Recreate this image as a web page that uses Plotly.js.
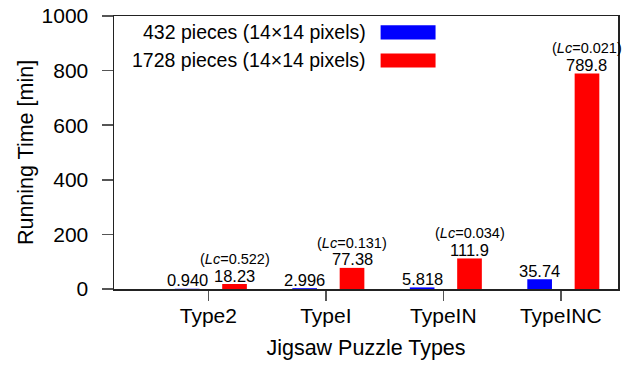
<!DOCTYPE html>
<html>
<head>
<meta charset="utf-8">
<script src="https://cdn.plot.ly/plotly-3.0.1.min.js"></script>
<style>
  html, body { margin: 0; padding: 0; background: #fff; }
  #chart { width: 623px; height: 370px; }
</style>
</head>
<body>
<div id="chart"></div>
<script>
// Puzzle types on the x axis
const categories = ["Type2", "TypeI", "TypeIN", "TypeINC"];

// Running time in minutes for each puzzle size
const seriesNames = ["432 pieces (14×14 pixels)", "1728 pieces (14×14 pixels)"];
const time432 = [0.940, 2.996, 5.818, 35.74];
const time1728 = [18.23, 77.38, 111.9, 789.8];
const labels432 = ["0.940", "2.996", "5.818", "35.74"];
const labels1728 = ["18.23", "77.38", "111.9", "789.8"];

// Lc values shown above the 1728-piece bars
const lcValues = ["0.522", "0.131", "0.034", "0.021"];

const yTicks = [0, 200, 400, 600, 800, 1000];
const colors = ["#0000ff", "#ff0000"];

const FONT = "Liberation Sans, Arial, Helvetica, sans-serif";
const xIdx = categories.map((_, i) => i);

// bar placement relative to each category tick
const barWidth = 0.21;
const offsets = [-0.285, 0.118];
const centers = offsets.map(o => o + barWidth / 2);

const traces = [
  {
    type: "bar", name: seriesNames[0], x: xIdx, y: time432,
    width: barWidth, offset: offsets[0],
    marker: { color: colors[0], line: { width: 0 } },
    hoverinfo: "skip", showlegend: false
  },
  {
    type: "bar", name: seriesNames[1], x: xIdx, y: time1728,
    width: barWidth, offset: offsets[1],
    marker: { color: colors[1], line: { width: 0 } },
    hoverinfo: "skip", showlegend: false
  }
];

const annotations = [];

// value labels sitting just above each bar
function valueLabel(xPos, yVal, text) {
  return {
    x: xPos, y: yVal, xref: "x", yref: "y",
    text: text, showarrow: false, xanchor: "center", yanchor: "bottom",
    yshift: -2.5,
    font: { family: FONT, size: 16.5, color: "#000" }
  };
}
time432.forEach((v, i) => annotations.push(valueLabel(i + centers[0], v, labels432[i])));
time1728.forEach((v, i) => annotations.push(valueLabel(i + centers[1], v, labels1728[i])));

// Lc notes above the value labels of the 1728-piece bars
lcValues.forEach((lc, i) => annotations.push({
  x: i + centers[1], y: time1728[i],
  xref: "x", yref: "y",
  text: "(<i>Lc</i>=" + lc + ")",
  showarrow: false, xanchor: "center", yanchor: "bottom",
  yshift: 15,
  font: { family: FONT, size: 14.5, color: "#000" }
}));

// Legend: right-aligned text with the colour swatch to its right
const legendRows = [0.940, 0.837];
const shapes = [];
seriesNames.forEach((name, i) => {
  annotations.push({
    x: 0.504, y: legendRows[i], xref: "paper", yref: "paper",
    text: name, showarrow: false, xanchor: "right", yanchor: "middle",
    font: { family: FONT, size: 19.5, color: "#000" }
  });
  shapes.push({
    type: "rect", xref: "paper", yref: "paper",
    x0: 0.529, x1: 0.638, y0: legendRows[i] - 0.026, y1: legendRows[i] + 0.026,
    fillcolor: colors[i], line: { width: 0 }
  });
});

const layout = {
  width: 623, height: 370,
  margin: { l: 114, r: 5, t: 16, b: 80.5, pad: 0 },
  paper_bgcolor: "#fff", plot_bgcolor: "#fff",
  barmode: "overlay",
  font: { family: FONT, color: "#000" },
  xaxis: {
    range: [-0.803, 3.487],
    tickmode: "array", tickvals: xIdx, ticktext: categories,
    ticks: "outside", ticklen: 10, tickwidth: 1.5, tickcolor: "#555",
    ticklabelstandoff: -3,
    showline: true, linecolor: "#222", linewidth: 1.5, mirror: true,
    showgrid: false, zeroline: false,
    tickfont: { family: FONT, size: 21, color: "#000" },
    title: { text: "Jigsaw Puzzle Types", font: { family: FONT, size: 21.5, color: "#000" }, standoff: 14 }
  },
  yaxis: {
    range: [0, 1000],
    tickmode: "array", tickvals: yTicks, ticktext: yTicks.map(String),
    ticks: "outside", ticklen: 11, tickwidth: 1.5, tickcolor: "#555",
    ticklabelstandoff: 9,
    showline: true, linecolor: "#222", linewidth: 1.5, mirror: true,
    showgrid: false, zeroline: false,
    tickfont: { family: FONT, size: 21, color: "#000" },
    title: { text: "Running Time [min]", font: { family: FONT, size: 21.5, color: "#000" }, standoff: 2 }
  },
  annotations: annotations,
  shapes: shapes,
  showlegend: false
};

Plotly.newPlot("chart", traces, layout, { displayModeBar: false, staticPlot: true });
</script>
</body>
</html>
